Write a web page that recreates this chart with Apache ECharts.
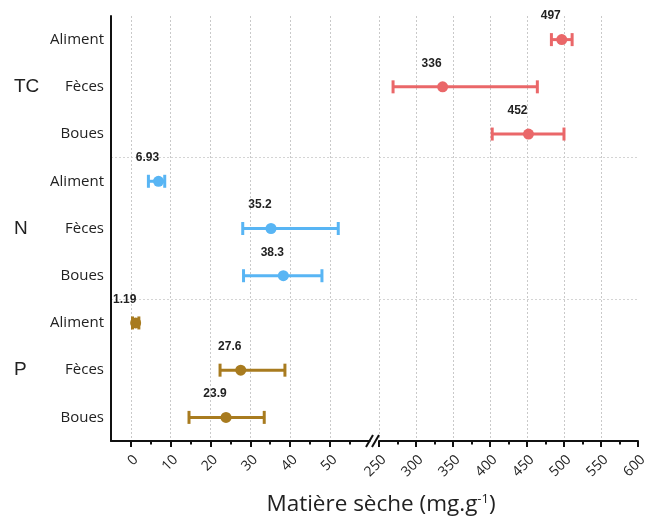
<!DOCTYPE html>
<html><head><meta charset="utf-8">
<script src="https://cdn.jsdelivr.net/npm/echarts@6/dist/echarts.min.js"></script>
<style>html,body{margin:0;padding:0;background:#fff}#c{width:650px;height:518px}</style>
</head><body><div id="c"></div>
<script>
// ---- data ----
const groups = ['TC', 'N', 'P'];
const samples = ['Aliment', 'Fèces', 'Boues'];
const tcMean = [497, 336, 452];
const tcLow  = [483, 269, 403];
const tcHigh = [511, 464, 500];
const nMean = [6.93, 35.2, 38.3];
const nLow  = [4.4, 28.1, 28.3];
const nHigh = [8.5, 52.1, 48.0];
const pMean = [1.19, 27.6, 23.9];
const pLow  = [0.4, 22.4, 14.6];
const pHigh = [2.0, 38.7, 33.5];
const leftTicks = [0, 10, 20, 30, 40, 50];
const leftMinorTicks = [5, 15, 25, 35, 45, 55];
const leftMin = -5, leftMax = 60;
const rightMin = 250, rightMax = 600, rightStep = 50;
const axisTitle = 'Matière sèche (mg.g';
const axisTitleSup = '-1';

const colors = { TC: '#ea6769', N: '#58b5f4', P: '#a87b1f' };
const rows = [];
groups.forEach(g => samples.forEach(s => rows.push(g + '|' + s)));

const FONT = '"Open Sans", sans-serif';
const black = '#111';

function errSeries(g, low, high, xi, yi) {
  const base = groups.indexOf(g) * 3;
  const color = colors[g];
  return {
    type: 'custom', xAxisIndex: xi, yAxisIndex: yi,
    encode: { x: [0, 1], y: 2 },
    data: low.map((l, i) => [l, high[i], base + i]),
    z: 3,
    renderItem(params, api) {
      const y = api.value(2);
      const a = api.coord([api.value(0), y]);
      const b = api.coord([api.value(1), y]);
      const h = 6.5;
      const style = { stroke: color, lineWidth: 3 };
      return { type: 'group', children: [
        { type: 'line', shape: { x1: a[0], y1: a[1], x2: b[0], y2: b[1] }, style },
        { type: 'line', shape: { x1: a[0], y1: a[1] - h, x2: a[0], y2: a[1] + h }, style },
        { type: 'line', shape: { x1: b[0], y1: b[1] - h, x2: b[0], y2: b[1] + h }, style }
      ]};
    }
  };
}
function dotSeries(g, mean, xi, yi) {
  const base = groups.indexOf(g) * 3;
  return {
    type: 'scatter', xAxisIndex: xi, yAxisIndex: yi,
    data: mean.map((m, i) => [m, base + i]),
    symbolSize: 11, z: 4,
    itemStyle: { color: colors[g], opacity: 1 },
    label: {
      show: true, position: 'top', distance: 5, offset: [-11, -7],
      formatter: p => String(p.value[0]),
      fontFamily: '"Liberation Sans", Arial, sans-serif', fontWeight: 'bold', fontSize: 12, color: '#222'
    }
  };
}

const gridCommon = { top: 16, height: 425 };
const splitX = { show: true, lineStyle: { color: '#c9c9c9', type: [2, 2], width: 1 } };
const splitY = { show: true, interval: (i) => i === 3 || i === 6,
                 lineStyle: { color: '#d4d4d4', type: [2, 2], width: 1 } };
const tickLabel = { rotate: 45, align: 'right', verticalAlign: 'top',
                    margin: 11.5, fontSize: 14, color: '#222', fontFamily: FONT };

const option = {
  animation: false,
  backgroundColor: '#fff',
  textStyle: { fontFamily: FONT },
  grid: [
    Object.assign({ left: 111, width: 258.7 }, gridCommon),
    Object.assign({ left: 379, width: 259.7 }, gridCommon)
  ],
  xAxis: [
    { type: 'value', gridIndex: 0, min: leftMin, max: leftMax, position: 'bottom',
      axisLine: { show: true, onZero: false, lineStyle: { color: black, width: 2 } },
      axisTick: { show: true, customValues: leftTicks, length: 6, lineStyle: { color: black, width: 2 } },
      axisLabel: Object.assign({ customValues: leftTicks }, tickLabel),
      splitLine: splitX },
    { type: 'value', gridIndex: 0, min: leftMin, max: leftMax, position: 'bottom',
      axisLine: { show: false, onZero: false },
      axisTick: { show: true, customValues: leftMinorTicks, length: 3.5, lineStyle: { color: black, width: 2 } },
      axisLabel: { show: false, customValues: leftMinorTicks },
      splitLine: { show: false } },
    { type: 'value', gridIndex: 1, min: rightMin, max: rightMax, interval: rightStep, position: 'bottom',
      axisLine: { show: true, onZero: false, lineStyle: { color: black, width: 2 } },
      axisTick: { show: true, length: 6, lineStyle: { color: black, width: 2 } },
      minorTick: { show: true, splitNumber: 2, length: 3.5, lineStyle: { color: black, width: 2 } },
      axisLabel: tickLabel,
      splitLine: Object.assign({ showMaxLine: false }, splitX) }
  ],
  yAxis: [
    { type: 'category', gridIndex: 0, data: rows, inverse: true, position: 'left',
      axisLine: { show: true, onZero: false, lineStyle: { color: black, width: 2 } },
      axisTick: { show: false },
      axisLabel: { formatter: v => v.split('|')[1], fontSize: 15, color: '#222', margin: 7, fontFamily: FONT },
      splitLine: splitY },
    { type: 'category', gridIndex: 0, data: rows, inverse: true, position: 'left', offset: 89,
      axisLine: { show: false, onZero: false }, axisTick: { show: false }, splitLine: { show: false },
      axisLabel: { formatter: v => (v.split('|')[1] === samples[1] ? v.split('|')[0] : ''),
                   align: 'left', margin: 8, fontSize: 19, color: '#222',
                   fontFamily: '"Liberation Sans", Arial, sans-serif' } },
    { type: 'category', gridIndex: 1, data: rows, inverse: true,
      axisLine: { show: false, onZero: false }, axisTick: { show: false }, axisLabel: { show: false },
      splitLine: splitY }
  ],
  series: [
    errSeries('TC', tcLow, tcHigh, 2, 2), dotSeries('TC', tcMean, 2, 2),
    errSeries('N', nLow, nHigh, 0, 0), dotSeries('N', nMean, 0, 0),
    errSeries('P', pLow, pHigh, 0, 0), dotSeries('P', pMean, 0, 0)
  ],
  graphic: [
    { type: 'line', shape: { x1: 366, y1: 447, x2: 373, y2: 435 }, style: { stroke: black, lineWidth: 2 }, z: 10 },
    { type: 'line', shape: { x1: 372, y1: 447, x2: 379, y2: 435 }, style: { stroke: black, lineWidth: 2 }, z: 10 },
    { type: 'text', x: 381, y: 505, z: 10,
      style: { text: '{a|' + axisTitle + '}{s|' + axisTitleSup + '}{a|)}',
               align: 'center', verticalAlign: 'middle',
               rich: { a: { fontSize: 22.5, fontFamily: FONT, fill: '#222', color: '#222' },
                       s: { fontSize: 13, fontFamily: FONT, fill: '#222', color: '#222', verticalAlign: 'top', padding: [0, 0, 12, 0] } } } }
  ]
};
const chart = echarts.init(document.getElementById('c'), null, { renderer: 'canvas' });
chart.setOption(option);
</script></body></html>
